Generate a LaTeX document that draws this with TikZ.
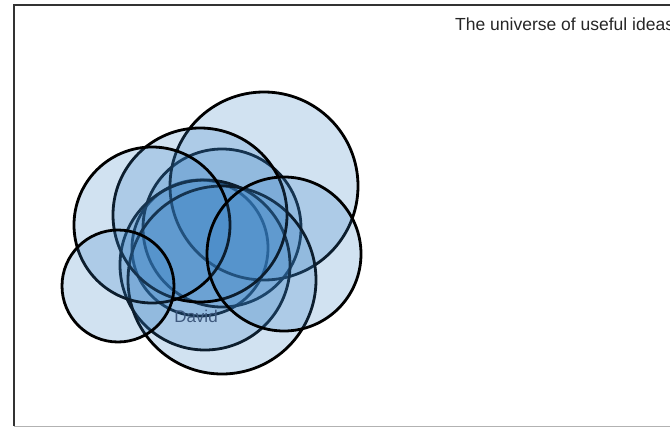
\documentclass[tikz,border=0pt]{standalone}
\usepackage{fontspec}
\setmainfont{Liberation Sans}
\usetikzlibrary{positioning}

\definecolor{ideablue}{RGB}{55,128,195}
\definecolor{namegray}{RGB}{62,88,125}

\begin{document}
\begin{tikzpicture}[
    x=1pt, y=-1pt,
    % --- Node styles ---
    idea/.style={circle, draw=black, line width=2.8pt, fill=ideablue,
                 fill opacity=0.23, inner sep=0pt, minimum size=#1},
    caption/.style={font=\fontsize{17.5}{20}\selectfont, text=black!85},
    person/.style={font=\fontsize{17}{20}\selectfont, text=namegray},
    frame/.style={line width=1.8pt, black!80},
]
\useasboundingbox (0,0) rectangle (670,428);

% === Frame ===
\draw[frame] (14,426) -- (14,5) -- (690,5);
\draw[black!30, line width=0.8pt] (14,426) -- (690,426);

% === Circles of ideas (deepest first) ===
\node[idea=136pt] (p1) at (200,248) {};
\node[idea=158pt] (p2) at (222,228) {};
\node[idea=188pt] (p3) at (264,186) {};
\node[idea=170pt] (p4) at (205,265) {};
\node[idea=188pt] (p5) at (222,280) {};
\node[idea=174pt] (p6) at (200,215) {};
\node[idea=156pt] (p7) at (152,225) {};
\node[idea=154pt] (p8) at (284,254) {};
\node[idea=112pt] (p9) at (118,286) {};

% === Labels ===
\node[person] (david) at (196,316) {David};
\node[caption, anchor=base west, inner sep=0pt] (universe) at (455,31)
  {The universe of useful ideas};

\end{tikzpicture}
\end{document}
